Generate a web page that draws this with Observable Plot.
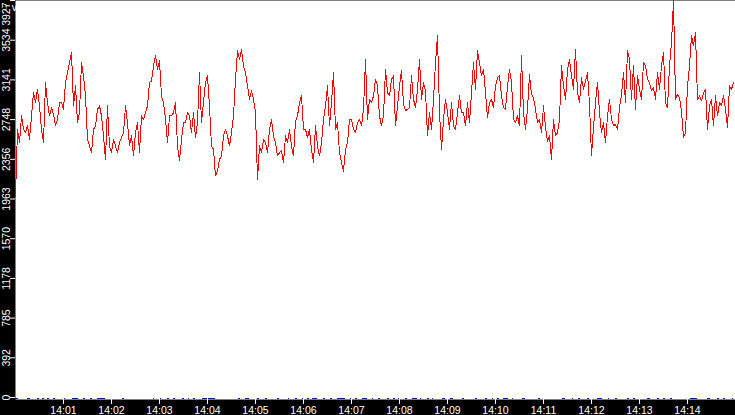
<!DOCTYPE html>
<html>
<head>
<meta charset="utf-8">
<script src="https://cdn.jsdelivr.net/npm/d3@7"></script>
<script src="https://cdn.jsdelivr.net/npm/@observablehq/plot@0.6"></script>
<style>
  html, body { margin: 0; padding: 0; background: #000; }
  #chart svg { display: block; }
</style>
</head>
<body>
<div id="chart"></div>
<script>
// Red series: one reading every 2.5 s starting 14:00:00
const startTime = "14:00:00";
const sampleSeconds = 2.5;
const redValues = [
  // 14:00 – 14:02:30
  1993,2653,2521,2785,2653,2620,2686,2554,2785,3016,2917,3049,2884,2653,2521,3115,2917,2785,2867,2801,
  2686,2752,2917,2917,2851,3115,3214,3313,3412,2884,3082,2719,2818,3313,3181,2983,2554,2488,2422,2653,
  2686,2851,2884,2785,2587,2356,2884,2488,2422,2554,2488,2422,2521,2570,2620,2884,2719,2488,2587,2389,
  2620,2719,
  // 14:02:35 – 14:05
  2422,2785,2752,2818,2884,3115,3132,3280,3379,3247,3330,2983,2917,2752,2521,2785,2785,2818,2917,2488,
  2340,2554,2719,2719,2818,2785,2620,2818,2570,2719,3214,2719,2917,3115,3181,2884,2488,2455,2191,2240,
  2356,2389,2587,2653,2587,2488,2620,2785,3148,3429,3346,3445,3280,3214,3082,2950,3032,2950,2818,2158,
  2488,
  // 14:05 – 14:07:30
  2422,2554,2521,2422,2653,2752,2587,2521,2389,2422,2439,2323,2587,2521,2653,2488,2389,2736,2785,2917,
  2983,2653,2653,2570,2653,2455,2323,2686,2488,2389,2521,2752,2884,3082,2686,2917,3214,2653,2719,2422,
  2323,2240,2455,2521,2752,2752,2653,2620,2719,2752,2686,2851,3346,2752,2950,2917,2983,3148,3082,2785,
  2686,
  // 14:07:35 – 14:10
  2785,3247,3016,2983,3148,3181,2686,2884,3082,3231,2901,2835,2851,2867,3181,2950,2867,3049,3346,2950,
  3115,3032,2587,2818,2653,2950,3313,3577,2818,2455,2752,2950,2818,2653,2917,2686,2653,2818,2983,2818,
  2818,2686,2917,2719,3016,3313,3049,3429,3313,3181,3247,3016,2768,2917,2950,2867,3082,3164,3181,2983,
  2867,2851,
  // 14:10:05 – 14:12:35
  3082,3247,3115,2752,2719,2785,2686,3379,2818,2653,2851,3197,2999,2966,2851,2719,2752,2620,2884,2670,
  2537,2587,2356,2752,2587,2620,2752,3280,3082,2950,3247,3346,3181,3049,3445,3016,2917,3164,3049,3132,
  3214,2901,2389,2670,2917,3115,2818,2620,2719,2521,2785,2950,2752,2686,2702,2653,2867,2999,3214,2917,
  3429,
  // 14:12:40 – 14:15
  3346,2950,3280,2851,3181,3049,2950,3313,3280,3148,3115,3032,3065,2950,3214,3049,3280,3412,2917,2867,
  3280,3511,3927,2950,2999,2966,2835,2570,2620,3082,3280,3577,3478,3610,2950,2983,2934,3016,3049,2653,
  2884,2950,2686,2983,2785,2917,2884,2983,2851,2669,3082,3049,3115
];

// Blue marks near zero: start / end in seconds after 14:00
const blueStart = [0,15,27.5,34,40,47.5,60,71,85,94,102,134,172,181,190,197.5,209,216,222.5,234,279,287.5,
  302.5,312.5,327.5,341,350,359,365,371,385,394,402.5,419,425,434,446,454,465,472.5,479,487.5,496,506,515,521,
  534,544,559,575,587.5,596,602.5,610,621,634,654,684,696,704,715,727,741,750,765,772.5,790,802.5,810,819,
  844,865,877.5,885,896];
const blueEnd = [4,19,29.5,36,42,49.5,62,79,87,96,112,136,174,183,192,199.5,211,218,224.5,250,281,292,
  304.5,314.5,329.5,343,352,361,367,377.5,387,396,412.5,421,427,440,448,456,467,474.5,481,489.5,502.5,508,517,523,
  537.5,547.5,561,577,589.5,598,604.5,616,623,637.5,656,687.5,698,706,717,734,743,752,767,774.5,794,804.5,812,821,
  852,869,879.5,887,898];

// Axis ticks
const xTickLabels = ["14:01","14:02","14:03","14:04","14:05","14:06","14:07","14:08","14:09","14:10","14:11","14:12","14:13","14:14"];
const yTickValues = [0,392.7,785.4,1178.1,1570.8,1963.5,2356.2,2748.9,3141.6,3534.3,3927];
const yTickLabels = ["0","392","785","1178","1570","1963","2356","2748","3141","3534","3927"];
const yMax = 3927;
const xSpanMinutes = 15;

const [h0, m0, s0] = startTime.split(":").map(Number);
const t0 = Date.UTC(2000, 0, 1, h0, m0, s0);
const red = redValues.map((v, i) => ({t: new Date(t0 + i * sampleSeconds * 1000), v}));
const blue = blueStart.map((s, i) => ({x1: new Date(t0 + s * 1000), x2: new Date(t0 + blueEnd[i] * 1000)}));
const xTicks = xTickLabels.map(s => { const [h, m] = s.split(":").map(Number); return new Date(Date.UTC(2000, 0, 1, h, m, 0)); });
const yLab = yTickValues.map((v, i) => ({v, label: yTickLabels[i]}));

const chart = Plot.plot({
  width: 735,
  height: 415,
  marginLeft: 15,
  marginRight: 0,
  marginTop: 0,
  marginBottom: 18,
  style: {background: "black", fontFamily: "Liberation Sans", fontSize: "10.5px"},
  x: {type: "utc", domain: [new Date(t0), new Date(t0 + xSpanMinutes * 60000)]},
  y: {domain: [0, yMax]},
  marks: [
    Plot.frame({fill: "white", stroke: null, insetBottom: -2}),
    Plot.ruleY(blue, {y: () => 0, x1: "x1", x2: "x2", stroke: "#0000ff", strokeWidth: 1, dy: 0.5, shapeRendering: "crispEdges"}),
    Plot.line(red, {x: "t", y: "v", stroke: "#ff0000", strokeWidth: 1, shapeRendering: "crispEdges"}),
    Plot.axisX(xTicks, {tickSize: 7, tickPadding: 2, color: "white", tickFormat: (d, i) => xTickLabels[i], fontSize: 10.5}),
    Plot.axisY(yTickValues, {tickSize: 5, color: "white", tickFormat: () => ""}),
    Plot.text(yLab.slice(0, -1), {y: "v", text: "label", frameAnchor: "left", dx: -9, rotate: -90, textAnchor: "middle", lineAnchor: "middle", fill: "white", fontSize: 10.5}),
    Plot.text(yLab.slice(-1), {y: "v", text: "label", frameAnchor: "left", dx: -9, dy: 2, rotate: -90, textAnchor: "end", lineAnchor: "middle", fill: "white", fontSize: 10.5})
  ]
});
document.getElementById("chart").append(chart);
</script>
</body>
</html>
